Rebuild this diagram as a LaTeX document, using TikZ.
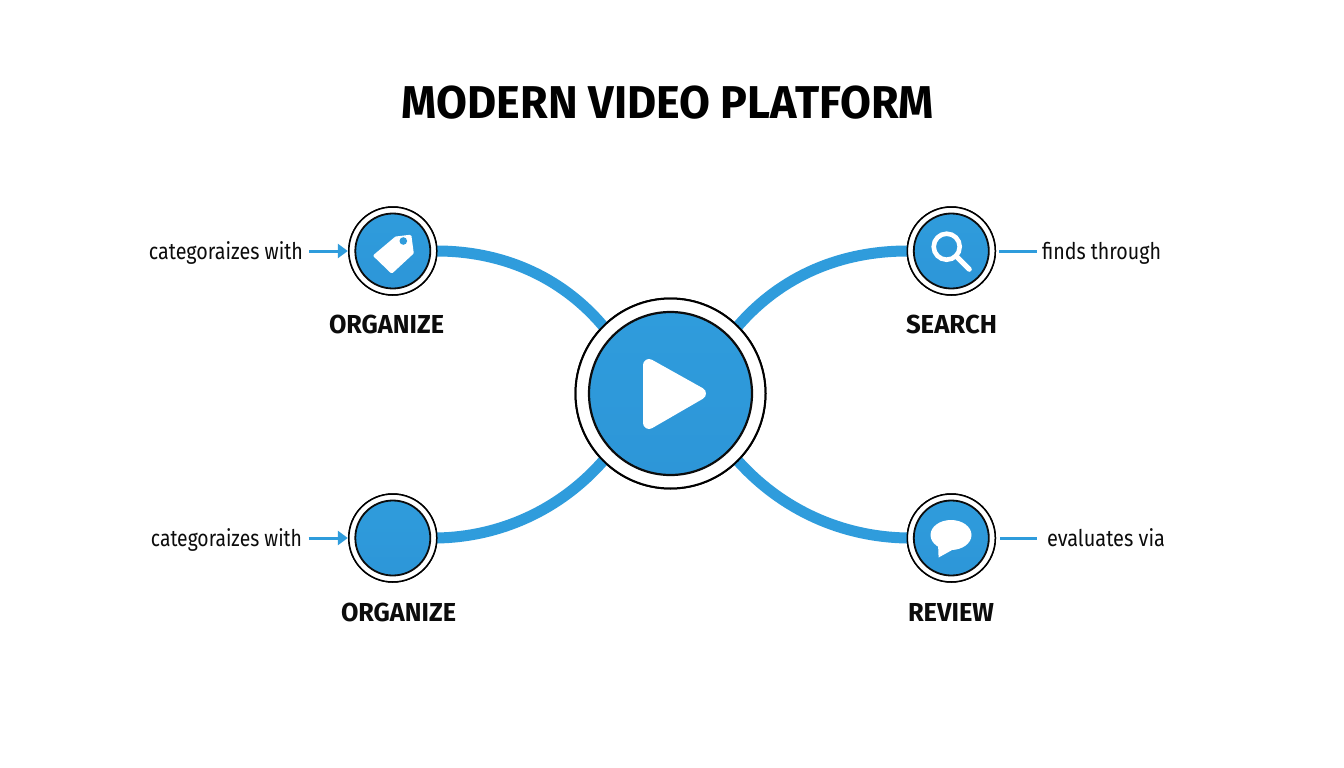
\documentclass[tikz,border=0pt]{standalone}
\usepackage{fontspec}
\usepackage{graphicx}
\setmainfont{Fira Sans}
\usetikzlibrary{arrows.meta}
\definecolor{brand}{HTML}{2F9CDC}
\definecolor{branddark}{HTML}{2D96D8}
\definecolor{ink}{HTML}{0C0C0C}
\newcommand{\fitw}[2]{\resizebox{#1pt}{\height}{#2}}
\tikzset{
  ring/.style={circle,draw=black,fill=white,line width=1.5pt,inner sep=0pt,outer sep=0pt,minimum size=88pt},
  disc/.style={circle,draw=ink,line width=1.8pt,top color=brand,bottom color=branddark,inner sep=0pt,outer sep=0pt,minimum size=75pt},
  hubring/.style={ring,line width=2pt,minimum size=190pt},
  hubdisc/.style={disc,line width=2.2pt,minimum size=163pt},
  arm/.style={draw=brand,line width=11pt},
  thin/.style={draw=brand,line width=3pt},
  glyph/.style={fill=white,draw=white,line join=round},
  lens/.style={draw=white,line width=4.6pt},
  word/.style={font=\fontsize{23}{26}\selectfont,text=ink,anchor=base,inner sep=0pt,outer sep=0pt},
  caption/.style={font=\fontsize{26}{30}\selectfont\bfseries,text=ink,anchor=base,inner sep=0pt,outer sep=0pt},
}
\begin{document}
\begin{tikzpicture}[x=1pt,y=-1pt]
\useasboundingbox (0,0) rectangle (1344,768);
\fill[white] (0,0) rectangle (1344,768);
% title
\node[font=\fontsize{46}{50}\selectfont\bfseries,text=black,anchor=base,inner sep=0pt] (title) at (668,118) {\fitw{532}{MODERN VIDEO PLATFORM}};
% nodes
\coordinate (hubc) at (670.5,393.5);
\node[ring] (o1) at (392.8,251) {};
\node[ring] (s1) at (951.3,251) {};
\node[ring] (o2) at (392.8,538) {};
\node[ring] (r1) at (951.3,538) {};
\node[hubring] (hub) at (hubc) {};
% arms
\draw[arm] (o1.east) .. controls (500,251) and (560,275) .. (hub.135);
\draw[arm] (s1.west) .. controls (842,251) and (782,275) .. (hub.45);
\draw[arm] (o2.east) .. controls (500,537) and (560,510) .. (hub.225);
\draw[arm] (r1.west) .. controls (842,537) and (782,510) .. (hub.315);
% redraw rings above arms
\node[hubring] at (hubc) {};
\node[hubdisc] (hubin) at (hubc) {};
\node[ring] at (o1) {};
\node[ring] at (s1) {};
\node[ring] at (o2) {};
\node[ring] at (r1) {};
\node[disc] at (o1) {};
\node[disc] at (s1) {};
\node[disc] at (o2) {};
\node[disc] at (r1) {};
% play icon
\filldraw[glyph,line width=12pt] (649,365) -- (700,393.5) -- (649,423) -- cycle;
% tag icon
\filldraw[glyph,line width=3pt] (396,238) -- (410,236.3) -- (412.2,252.8) -- (391.7,271.8) -- (375,255.7) -- cycle;
\fill[brand] (403.3,241) circle (3.8);
% magnifier
\draw[lens] (946.7,246.7) circle (13);
\draw[lens,line width=5pt,line cap=round] (956.5,256.5) -- (969.3,269.3);
% speech bubble
\fill[white] (951,535) ellipse (20.5 and 15);
\fill[white] (938,543) -- (938.6,557.5) -- (953,549.5) -- cycle;
% side labels
\node[word] (l1) at (226,259) {\fitw{154}{categoraizes with}};
\node[word] (l2) at (226.5,546.7) {\fitw{151}{categoraizes with}};
\node[word] (l3) at (1101.5,259) {\fitw{119}{finds through}};
\node[word] (l4) at (1106,546.7) {\fitw{118}{evaluates via}};
% captions
\node[caption] (c1) at (386.5,333.3) {\fitw{115}{ORGANIZE}};
\node[caption] (c2) at (951.5,333.3) {\fitw{91}{SEARCH}};
\node[caption] (c3) at (398.5,621.7) {\fitw{115}{ORGANIZE}};
\node[caption] (c4) at (951,621.7) {\fitw{86}{REVIEW}};
% thin connectors
\draw[thin,-{Triangle[length=10pt,width=14pt]},shorten <=6pt,shorten >=1pt] (l1.east |- o1.west) -- (o1.west);
\draw[thin,-{Triangle[length=10pt,width=14pt]},shorten <=6.5pt,shorten >=1pt] (l2.east |- o2.west) -- (o2.west);
\draw[thin,shorten <=4pt,shorten >=5pt] (s1.east) -- (l3.west |- s1.east);
\draw[thin,shorten <=5pt,shorten >=10pt] (r1.east) -- (l4.west |- r1.east);
\end{tikzpicture}
\end{document}
